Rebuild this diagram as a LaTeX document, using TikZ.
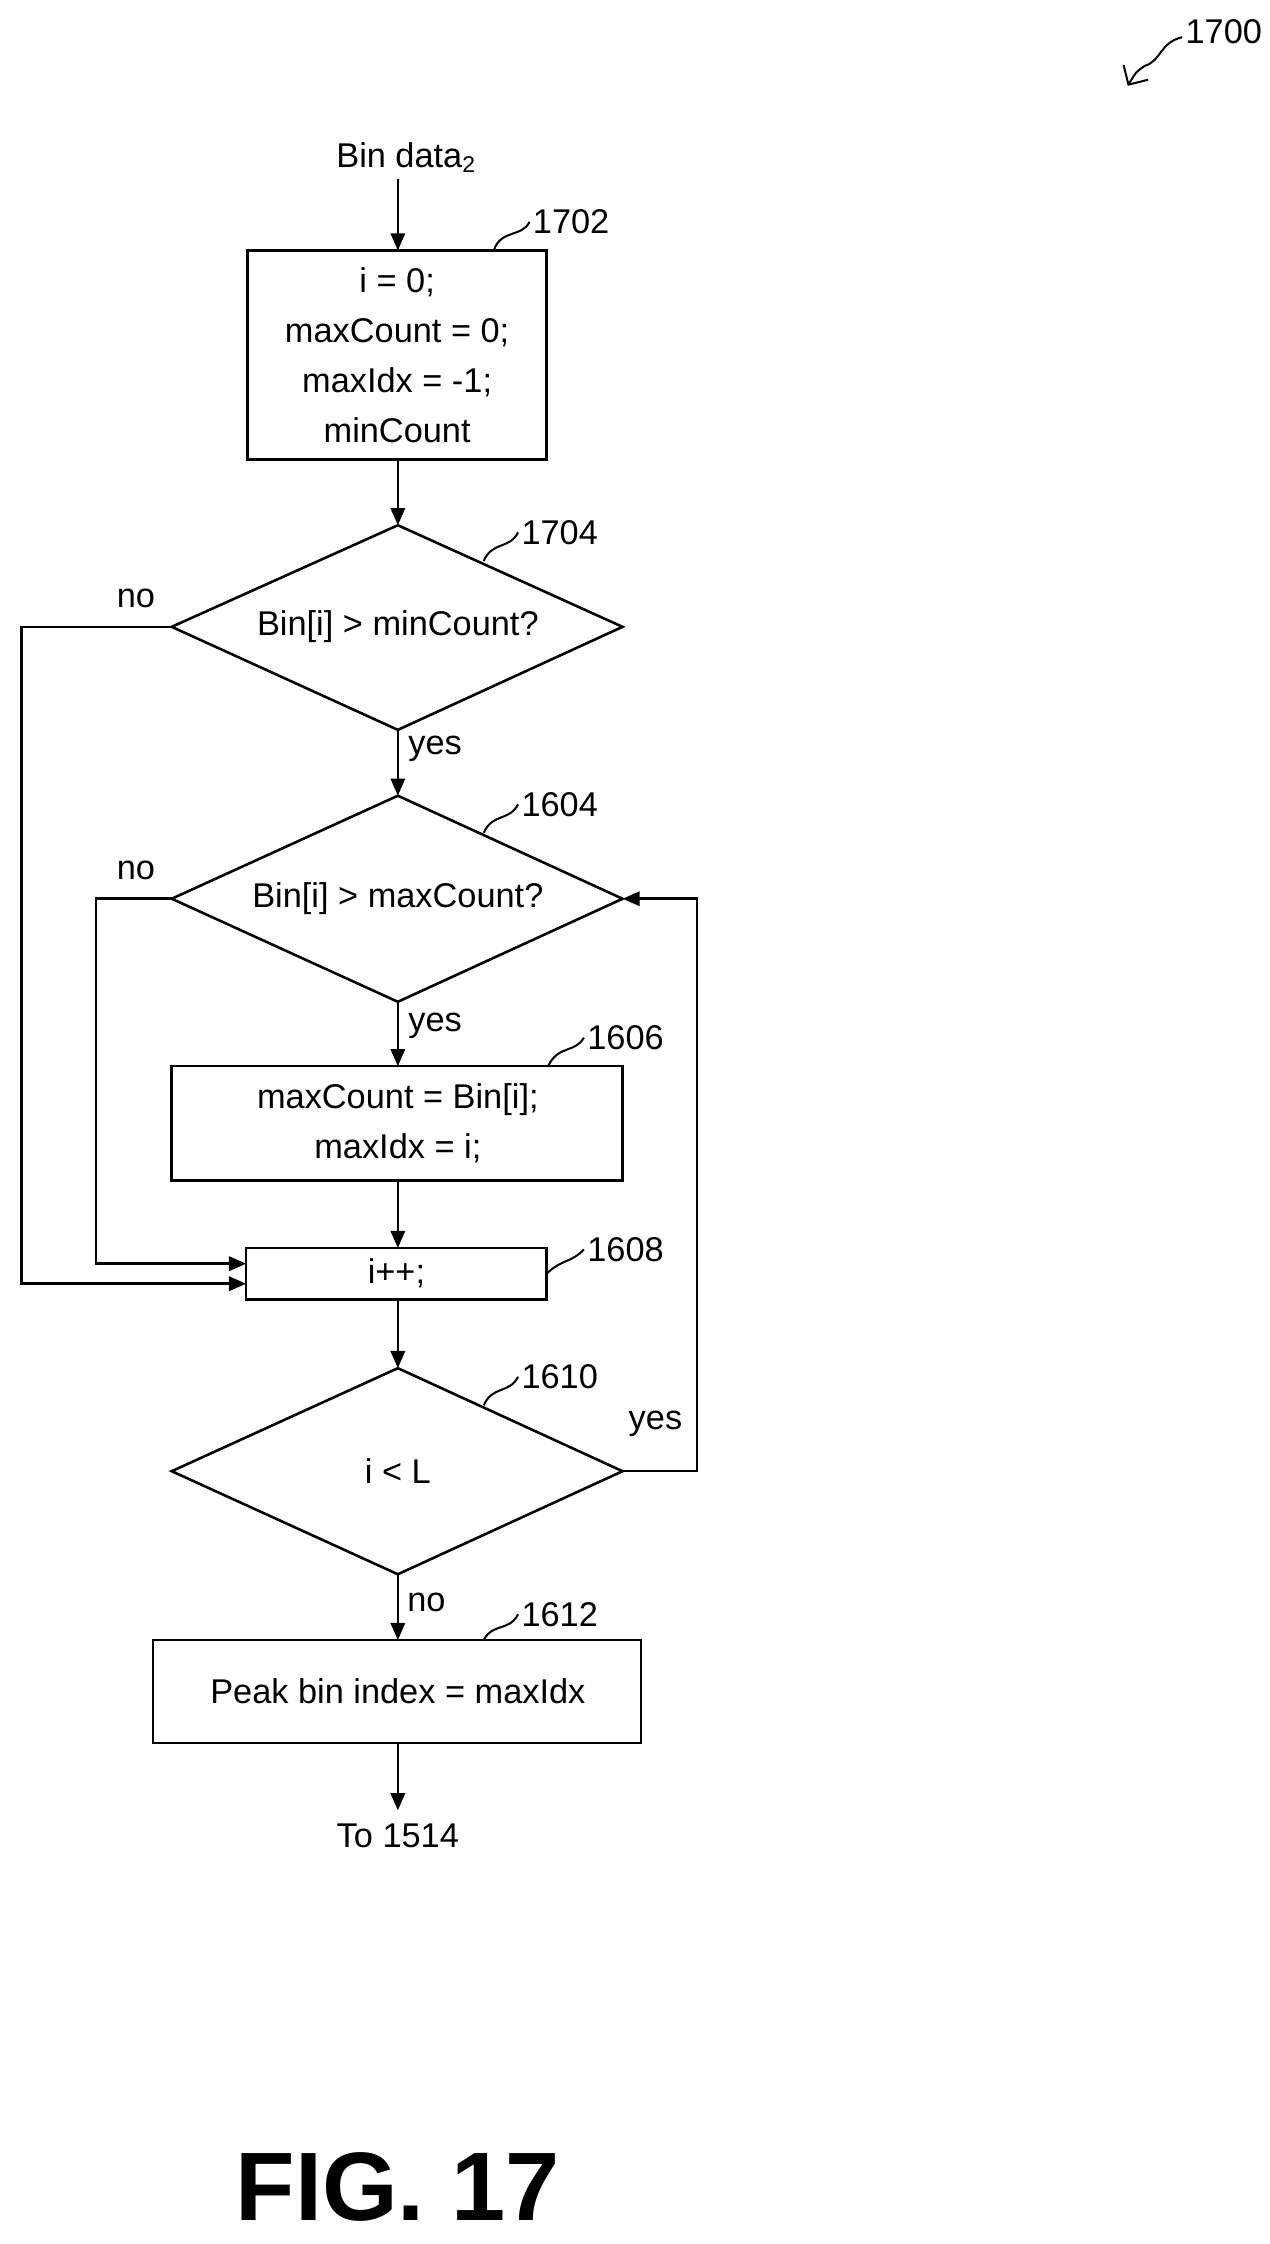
\documentclass[tikz,border=0pt]{standalone}
\usepackage{fontspec}
\setmainfont{Liberation Sans}
\usetikzlibrary{shapes.geometric,arrows.meta}
\begin{document}
\begin{tikzpicture}[x=0.5pt,y=-0.5pt,
  every node/.style={font=\fontsize{12}{15}\selectfont},
  box/.style={draw,line width=0.9pt,minimum width=0pt},
  line/.style={line width=0.9pt},
  arr/.style={line width=0.9pt,-{Triangle[length=6pt,width=5pt]}},
  sq/.style={line width=0.7pt},
  lbl/.style={anchor=west,inner sep=1pt}]
\useasboundingbox (0,0) rectangle (887,1568);
% 1700
\node[lbl] (l1700) at (826,22) {1700};
\draw[sq,-{Straight Barb[length=5pt]}] (826,26) .. controls (810,30) and (812,42) .. (800,46) .. controls (794,50) .. (788,60);
% start
\node (bin) at (284,110) {Bin data\textsubscript{2}};
\draw[line] (173,175) rectangle (382,321);
\node (b1702) at (277.5,248) [align=center,font=\fontsize{12}{17.5}\selectfont] {i = 0;\\maxCount = 0;\\maxIdx = -1;\\minCount};
\coordinate (b1702t) at (278,175);
\draw[arr] (278,125) -- (b1702t);
\node[lbl] (l1702) at (370,155) {1702};
\draw[sq] (345,175) .. controls (350,160) and (365,166) .. (370,155);
% d1704
\coordinate (d1t) at (278,367); \coordinate (d1b) at (278,510);
\coordinate (d1l) at (120,438); \coordinate (d1r) at (435,438);
\draw[line] (d1t) -- (d1r) -- (d1b) -- (d1l) -- cycle;
\node (t1704) at (278,438) {Bin[i] > minCount?};
\draw[arr] (278,321) -- (d1t);
\node[lbl] (l1704) at (362,372) {1704};
\draw[sq] (338,392) .. controls (344,378) and (356,384) .. (362,372);
% d1604
\coordinate (d2t) at (278,556); \coordinate (d2b) at (278,700);
\coordinate (d2l) at (120,628); \coordinate (d2r) at (435,628);
\draw[line] (d2t) -- (d2r) -- (d2b) -- (d2l) -- cycle;
\node (t1604) at (278,628) {Bin[i] > maxCount?};
\draw[arr] (d1b) -- (d2t);
\node (yes1) at (304,523) {yes};
\node[lbl] (l1604) at (362,562) {1604};
\draw[sq] (338,582) .. controls (344,568) and (356,574) .. (362,562);
% box 1606
\draw[line] (120,745) rectangle (435,825);
\node (t1606) at (278,785) [align=center,font=\fontsize{12}{17.5}\selectfont] {maxCount = Bin[i];\\maxIdx = i;};
\draw[arr] (d2b) -- (278,745);
\node (yes2) at (304,717) {yes};
\node[lbl] (l1606) at (408,725) {1606};
\draw[sq] (383,745) .. controls (390,730) and (402,736) .. (408,725);
% box 1608
\draw[line] (172,872) rectangle (382,908);
\node (t1608) at (277,890) {i++;};
\draw[arr] (278,825) -- (278,872);
\node[lbl] (l1608) at (408,873) {1608};
\draw[sq] (382,890) .. controls (392,880) and (400,882) .. (408,873);
% no loops
\node (no1) at (95,418) {no};
\draw[arr] (d1l) -- (15,438) -- (15,897) -- (172,897);
\node (no2) at (95,608) {no};
\draw[arr] (d2l) -- (67,628) -- (67,883) -- (172,883);
% d1610
\coordinate (d3t) at (278,956); \coordinate (d3b) at (278,1100);
\coordinate (d3l) at (120,1028); \coordinate (d3r) at (435,1028);
\draw[line] (d3t) -- (d3r) -- (d3b) -- (d3l) -- cycle;
\node (t1610) at (278,1028) {i < L};
\draw[arr] (278,908) -- (d3t);
\node[lbl] (l1610) at (362,962) {1610};
\draw[sq] (338,982) .. controls (344,968) and (356,974) .. (362,962);
\node (yes3) at (458,995) {yes};
\draw[arr] (d3r) -- (487,1028) -- (487,628) -- (d2r);
% box 1612
\draw[line] (107,1146) rectangle (448,1218);
\node (t1612) at (278,1182) {Peak bin index = maxIdx};
\draw[arr] (d3b) -- (278,1146);
\node (no3) at (298,1120) {no};
\node[lbl] (l1612) at (362,1128) {1612};
\draw[sq] (338,1146) .. controls (344,1134) and (356,1140) .. (362,1128);
\node (end) at (278,1283) {To 1514};
\draw[arr] (278,1218) -- (278,1265);
\node (fig) at (278,1528) {\fontsize{34}{40}\selectfont\bfseries FIG. 17};
\end{tikzpicture}
\end{document}
